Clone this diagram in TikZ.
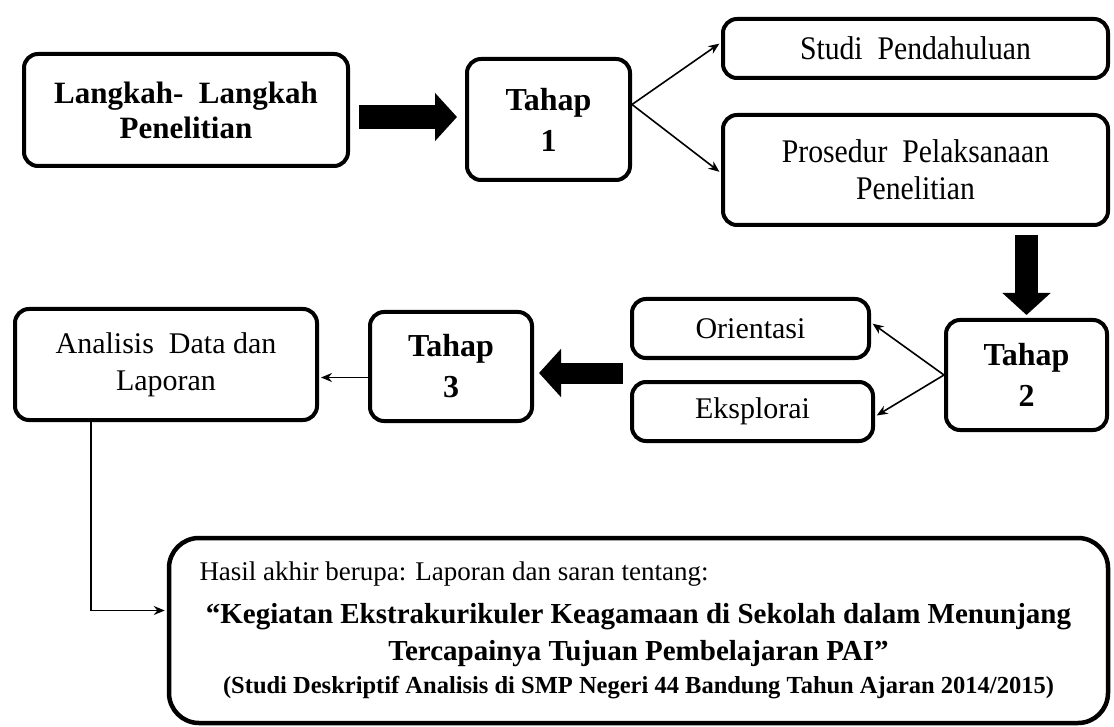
\documentclass[tikz,border=0pt]{standalone}
\usepackage{fontspec}
\setmainfont{Liberation Serif}
\newfontfamily\narrowserif{Liberation Serif}[FakeStretch=0.9]
\usetikzlibrary{arrows.meta,calc}

\begin{document}
\begin{tikzpicture}[x=1pt,y=-1pt,
        box/.style={draw, line width=4pt, rounded corners=14pt, align=center, inner sep=0pt, font=\fontsize{30}{37}\selectfont},
        tahap/.style={box, font=\fontsize{32}{41}\selectfont\bfseries},
        link/.style={line width=1.6pt, shorten >=2pt, -{Stealth[length=11pt,width=9pt]}},
        fat/.style={line width=#1, -{Triangle[length=22pt,width=47pt]}}]
        \useasboundingbox (0,0) rectangle (1114,727);

        \node[box, minimum width=324pt, minimum height=112pt, font=\fontsize{31}{35}\selectfont\bfseries] (lk) at (186,110) {Langkah-\ \ Langkah\\Penelitian};
        \node[tahap, minimum width=163pt, minimum height=121pt] (t1) at (548.5,119.5) {Tahap\\1};
        \node[box, minimum width=385pt, minimum height=59pt, font=\fontsize{33}{37}\narrowserif] (studi) at (915.5,48.5) {Studi\ \ Pendahuluan};
        \node[box, minimum width=385pt, minimum height=110pt, font=\fontsize{33}{37}\narrowserif] (pros) at (915.5,170) {Prosedur\ \ Pelaksanaan\\Penelitian};

        \node[tahap, minimum width=161pt, minimum height=110pt] (t2) at (1026.5,375) {Tahap\\2};
        \node[box, minimum width=237pt, minimum height=59pt] (orient) at (750.5,328.5) {Orientasi};
        \node[box, minimum width=241pt, minimum height=59pt] (eksp) at (752.5,411.5) {Eksplorai};
        \node[tahap, minimum width=162pt, minimum height=109pt] (t3) at (451,366.5) {Tahap\\3};
        \node[box, minimum width=302pt, minimum height=111pt] (anl) at (166,364.5) {Analisis\ \ Data dan\\Laporan};

        \node[box, line width=4.5pt, rounded corners=30pt, minimum width=939pt, minimum height=185pt, font=\fontsize{29}{36}\selectfont\bfseries] (hasil) at (638.5,630.5)
            {\makebox[878pt][l]{\fontsize{27}{36}\selectfont\mdseries Hasil akhir berupa: Laporan dan saran tentang:}\\[7pt]
            “Kegiatan Ekstrakurikuler Keagamaan di Sekolah dalam Menunjang\\[1pt]
            Tercapainya Tujuan Pembelajaran PAI”\\[-3pt]
            {\fontsize{24.5}{30}\selectfont (Studi Deskriptif Analisis di SMP Negeri 44 Bandung Tahun Ajaran 2014/2015)}};

        \coordinate (grp) at ($(orient.west)!.5!(eksp.west)+(-7,3)$);

        \draw[fat=24pt] ([xshift=9pt,yshift=-7pt]lk.east) -- ([xshift=-8pt,yshift=-7pt]lk.east -| t1.west);
        \draw[link] ([yshift=15pt]t1.east) -- ([yshift=6pt]studi.west);
        \draw[link] ([yshift=15pt]t1.east) -- ([yshift=-3pt]pros.west);
        \draw[fat=23pt] ([yshift=-8pt]t2.north |- pros.south) -- ([yshift=3pt]t2.north);
        \draw[link] (t2.west) -- ([yshift=6pt]orient.east);
        \draw[link] (t2.west) -- ([yshift=-5pt]eksp.east);
        \draw[fat=21pt] (grp) -- ([xshift=5pt]grp -| t3.east);
        \draw[link] ([yshift=-11pt]t3.west) -- ([yshift=-11pt]t3.west -| anl.east);
        \draw[link] ([xshift=78pt]anl.south west) |- ([yshift=20pt]hasil.west);
\end{tikzpicture}
\end{document}
